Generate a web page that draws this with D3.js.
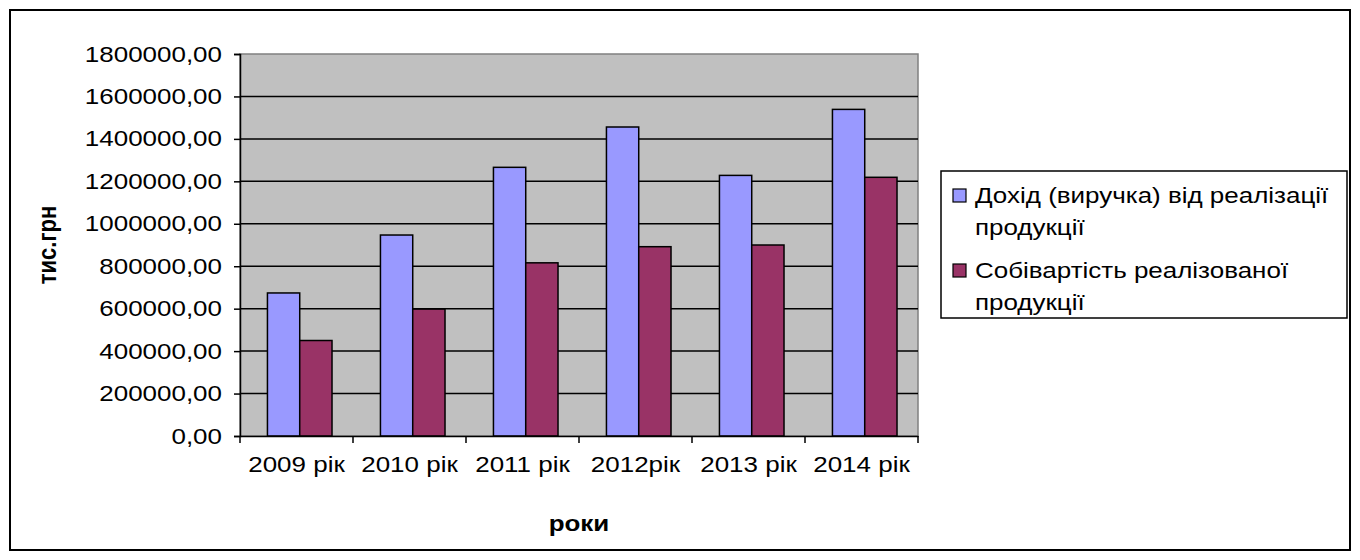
<!DOCTYPE html>
<html>
<head>
<meta charset="utf-8">
<script src="https://cdn.jsdelivr.net/npm/d3@7"></script>
<style>
  html, body { margin: 0; padding: 0; background: #fff; }
  svg { display: block; font-family: "Liberation Sans", Arial, sans-serif; }
</style>
</head>
<body>
<svg id="chart" width="1360" height="560"></svg>
<script>
// Categories and series (тис. грн)
const years = ["2009 рік", "2010 рік", "2011 рік", "2012рік", "2013 рік", "2014 рік"];
const revenue = [674000, 947000, 1266000, 1456000, 1228000, 1539000];
const cost = [450000, 598000, 816000, 892000, 900000, 1219000];
const seriesNames = ["Дохід (виручка) від реалізації продукції", "Собівартість реалізованої продукції"];
const seriesColors = ["#9999FF", "#993366"];
const yTicks = [0, 200000, 400000, 600000, 800000, 1000000, 1200000, 1400000, 1600000, 1800000];

const svg = d3.select("#chart");
const plot = { left: 240, right: 918, top: 54, bottom: 436 };
const FS = 22;        // base font size
const WIDEN = 1.18;   // horizontal widening of the lettering

// Outer chart frame
svg.append("rect")
  .attr("x", 10).attr("y", 10).attr("width", 1340).attr("height", 540)
  .attr("fill", "#fff").attr("stroke", "#000").attr("stroke-width", 2);

const x0 = d3.scaleBand().domain(years).range([plot.left, plot.right]);
const bw = x0.bandwidth() / 3.5; // 150% gap width
const x1 = d3.scaleBand().domain([0, 1]).range([0, 2 * bw]);
const y = d3.scaleLinear().domain([0, 1800000]).range([plot.bottom, plot.top]);

// Plot area background
svg.append("rect")
  .attr("x", plot.left).attr("y", plot.top)
  .attr("width", plot.right - plot.left).attr("height", plot.bottom - plot.top)
  .attr("fill", "#C0C0C0").attr("stroke", "#808080").attr("stroke-width", 1.5);

// Gridlines
svg.append("g").selectAll("line")
  .data(yTicks.filter(d => d > 0 && d < 1800000))
  .join("line")
  .attr("x1", plot.left).attr("x2", plot.right)
  .attr("y1", d => y(d)).attr("y2", d => y(d))
  .attr("stroke", "#000").attr("stroke-width", 1.5);

// Bars
const groups = svg.append("g").selectAll("g")
  .data(years.map((yr, i) => ({ yr, vals: [revenue[i], cost[i]] })))
  .join("g")
  .attr("transform", d => `translate(${x0(d.yr) + 0.85 * bw},0)`);

groups.selectAll("rect")
  .data(d => d.vals.map((v, k) => ({ v, k })))
  .join("rect")
  .attr("x", d => x1(d.k))
  .attr("y", d => y(d.v))
  .attr("width", bw)
  .attr("height", d => y(0) - y(d.v))
  .attr("fill", d => seriesColors[d.k])
  .attr("stroke", "#000").attr("stroke-width", 1.5);

// Y axis
const yAxis = d3.axisLeft(y).tickValues(yTicks).tickSize(6).tickPadding(12)
  .tickFormat(d => d3.format(".2f")(d).replace(".", ","));
const gy = svg.append("g").attr("transform", `translate(${plot.left},0)`).call(yAxis);
gy.attr("font-family", null).attr("font-size", null);
gy.select(".domain").attr("stroke", "#000").attr("stroke-width", 1.5);
gy.selectAll(".tick line").attr("stroke", "#000").attr("stroke-width", 1.5);
gy.selectAll(".tick text").attr("font-size", FS).attr("fill", "#000").attr("class", "wide");

// X axis (ticks at category boundaries)
const xAxis = d3.axisBottom(x0).tickSize(0).tickPadding(20);
const gx = svg.append("g").attr("transform", `translate(0,${plot.bottom})`).call(xAxis);
gx.attr("font-family", null).attr("font-size", null);
gx.select(".domain").attr("stroke", "#000").attr("stroke-width", 1.5);
gx.selectAll(".tick text").attr("font-size", FS).attr("fill", "#000").attr("class", "wide");
const bounds = years.map(d => x0(d)).concat([plot.right]);
gx.selectAll(".bound").data(bounds).join("line")
  .attr("class", "bound")
  .attr("x1", d => d).attr("x2", d => d).attr("y1", 0).attr("y2", 7)
  .attr("stroke", "#000").attr("stroke-width", 1.5);

// Axis titles
svg.append("text")
  .attr("class", "wide")
  .attr("x", (plot.left + plot.right) / 2).attr("y", 531)
  .attr("text-anchor", "middle").attr("font-size", FS).attr("font-weight", "bold")
  .text("роки");
svg.append("g")
  .attr("transform", `translate(56,245) scale(${WIDEN},1) rotate(-90)`)
  .append("text")
  .attr("text-anchor", "middle").attr("font-size", FS).attr("font-weight", "bold")
  .text("тис.грн");

// Legend
const legend = svg.append("g");
legend.append("rect")
  .attr("x", 941).attr("y", 171).attr("width", 406).attr("height", 147)
  .attr("fill", "#fff").attr("stroke", "#000").attr("stroke-width", 1.5);
const legendLines = [
  ["Дохід (виручка) від реалізації", "продукції"],
  ["Собівартість реалізованої", "продукції"]
];
const legendTop = [203, 278];
legendLines.forEach((lines, k) => {
  legend.append("rect")
    .attr("x", 953).attr("y", legendTop[k] - 14).attr("width", 13).attr("height", 13)
    .attr("fill", seriesColors[k]).attr("stroke", "#000").attr("stroke-width", 1.2);
  lines.forEach((t, j) => {
    legend.append("text")
      .attr("class", "wide")
      .attr("x", 975).attr("y", legendTop[k] + j * 32)
      .attr("font-size", FS).attr("fill", "#000")
      .text(t);
  });
});

// Widen horizontal lettering
svg.selectAll("text.wide").each(function () {
  const len = this.getComputedTextLength();
  d3.select(this).attr("textLength", len * WIDEN).attr("lengthAdjust", "spacingAndGlyphs");
});
</script>
</body>
</html>
